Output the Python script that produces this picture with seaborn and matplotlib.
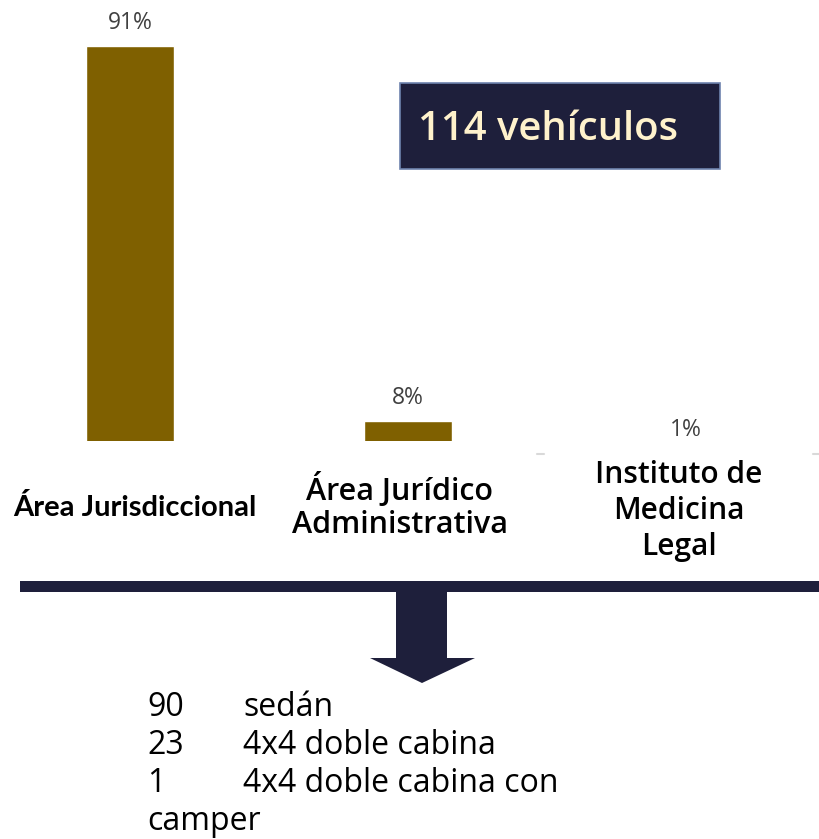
import matplotlib
matplotlib.use("Agg")
import matplotlib.pyplot as plt
import matplotlib.transforms as mtransforms
from matplotlib.patches import Rectangle, Polygon
from matplotlib.lines import Line2D
import seaborn as sns
import pandas as pd

# ---- data ----
categories = ["Área Jurisdiccional", "Área Jurídico\nAdministrativa", "Instituto de\nMedicina\nLegal"]
percentages = [91, 8, 1]
total_label = "114 vehículos"
vehicle_counts = ["90", "23", "1"]
vehicle_types = ["sedán", "4x4 doble cabina", "4x4 doble cabina con"]
vehicle_wrap = "camper"

BAR = "#7F6000"
NAVY = "#1E1F3B"

sns.set_style("white")
plt.rcParams["font.family"] = ["Open Sans", "DejaVu Sans"]

W, H = 820, 839
fig = plt.figure(figsize=(W / 100, H / 100), dpi=100)

def fx(px):
    return px / W

def fy(py):
    return 1 - py / H

# axes: x spans full width, y from top (0px) to baseline (441px)
ax = fig.add_axes([0, fy(441), 1, 441 / H])
df = pd.DataFrame({"cat": categories, "pct": percentages})
sns.barplot(data=df, x="cat", y="pct", color=BAR, width=0.313, saturation=1, ax=ax)

spacing = 278.0
x0 = -130.0 / spacing
ax.set_xlim(x0, x0 + W / spacing)
ybot = 3.6
scale = (441 - 46) / (91 - ybot)
ax.set_ylim(ybot, ybot + 441 / scale)
ax.axis("off")

# value labels
for i, v in enumerate(percentages):
    t = mtransforms.offset_copy(ax.transData, fig=fig, x=0, y=23 * 72 / 100, units="points")
    ax.text(i, v, f"{v}%", transform=t, ha="center", va="center", fontsize=16.5,
            color="#404040", clip_on=False)

# faint axis tick remnants
for xa, xb in [(537, 544), (813, 820)]:
    fig.add_artist(Line2D([fx(xa), fx(xb)], [fy(454), fy(454)], transform=fig.transFigure,
                          color="#D9D9D9", linewidth=1.5))

# category labels
btr = mtransforms.blended_transform_factory(ax.transData, fig.transFigure)
cat_styles = [
    dict(fontsize=21, fontweight="bold", dx=5, y=508, family=["Lato", "DejaVu Sans"]),
    dict(fontsize=22, fontweight="semibold", dx=-8, y=506, linespacing=1.17),
    dict(fontsize=21.5, fontweight="semibold", dx=-7, y=511, linespacing=1.24),
]
for i, (lab, st) in enumerate(zip(categories, cat_styles)):
    kw = {}
    if "family" in st:
        kw["family"] = st["family"]
    ax.text(i + st["dx"] / spacing, fy(st["y"]), lab, transform=btr, ha="center", va="center",
            fontsize=st["fontsize"], fontweight=st["fontweight"],
            linespacing=st.get("linespacing", 1.2), color="black", clip_on=False, **kw)

# total box
fig.add_artist(Rectangle((fx(400), fy(169)), fx(720) - fx(400), fy(83) - fy(169),
                         transform=fig.transFigure, facecolor=NAVY,
                         edgecolor="#6E83AE", linewidth=1.2))
fig.text(fx(418), fy(130), total_label, ha="left", va="center", fontsize=28.8,
         color="#FFF2CC", fontweight="semibold")

# horizontal bar and arrow
fig.add_artist(Rectangle((fx(20), fy(592)), fx(820) - fx(20), fy(581) - fy(592),
                         transform=fig.transFigure, facecolor=NAVY, edgecolor="none"))
arrow_px = [(396, 591), (447, 591), (447, 658), (475, 658), (422, 683), (370, 658), (396, 658)]
fig.add_artist(Polygon([(fx(x), fy(y)) for x, y in arrow_px], closed=True,
                       transform=fig.transFigure, facecolor=NAVY, edgecolor="none"))

# vehicle list
rows_y = [708, 746, 784]
fs = 23
for n, t, y in zip(vehicle_counts, vehicle_types, rows_y):
    fig.text(fx(147), fy(y), n, ha="left", va="center", fontsize=fs, color="black")
    fig.text(fx(243), fy(y), t, ha="left", va="center", fontsize=fs, color="black")
fig.text(fx(147), fy(821), vehicle_wrap, ha="left", va="center", fontsize=fs, color="black")

fig.savefig("out.png", dpi=100, facecolor="white")
